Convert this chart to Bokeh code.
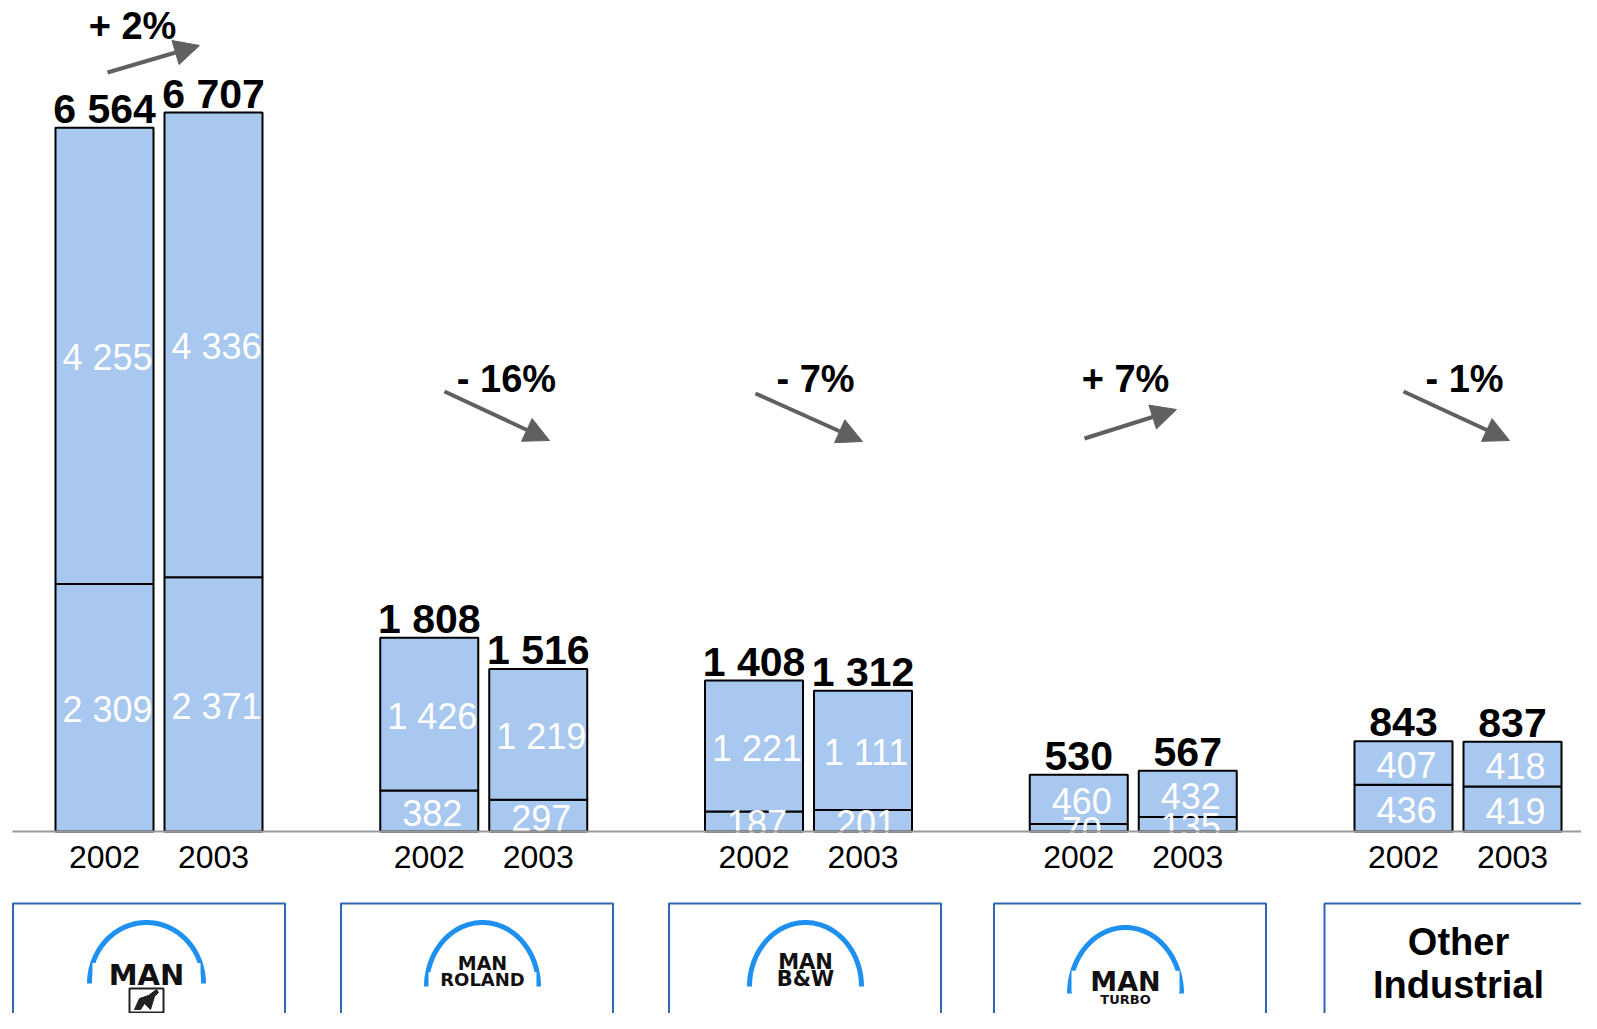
import numpy as np
from bokeh.plotting import figure
from bokeh.models import Range1d, Arrow, NormalHead, ColumnDataSource
from bokeh.core.properties import value
from bokeh.embed import file_html
from bokeh.resources import INLINE

# ---------------- data ----------------
segments = ["MAN Nutzfahrzeuge", "MAN Roland", "MAN B&W", "MAN Turbo", "Other Industrial"]
years = ["2002", "2003"]
lower_2002 = [2309, 382, 187, 70, 436]
upper_2002 = [4255, 1426, 1221, 460, 407]
lower_2003 = [2371, 297, 201, 135, 419]
upper_2003 = [4336, 1219, 1111, 432, 418]
change_labels = ["+ 2%", "- 16%", "- 7%", "+ 7%", "- 1%"]

# ---------------- layout ----------------
W, H = 1581, 1013
ORIGIN = 0             # page offset of the canvas (as rendered)
BASE_PY = 831          # page y of zero line
K = 0.1072             # px per unit
X0 = 104               # centre of first bar (page px)
GROUP_STEP = 324.75
YEAR_STEP = 109
BAR_W = 98
FONT = "Liberation Sans"
BAR_FILL = "#a8c8f0"


def py2v(py):
    return (BASE_PY - py) / K


p = figure(width=W, height=H, output_backend="svg", toolbar_location=None,
           x_range=Range1d(ORIGIN, ORIGIN + W),
           y_range=Range1d(py2v(ORIGIN + H), py2v(ORIGIN)),
           min_border=0, outline_line_color=None)
p.axis.visible = False
p.grid.visible = False
p.background_fill_color = "white"

fmt = lambda v: f"{v:,}".replace(",", " ")

xs, lows, ups, tots, yrs = [], [], [], [], []
for g in range(len(segments)):
    for yi, (lo, up) in enumerate([(lower_2002[g], upper_2002[g]), (lower_2003[g], upper_2003[g])]):
        xs.append(X0 + g * GROUP_STEP + yi * YEAR_STEP)
        lows.append(lo)
        ups.append(up)
        tots.append(lo + up)
        yrs.append(years[yi])

src = ColumnDataSource(dict(
    x=xs, low=lows, up=ups, tot=tots, year=yrs,
    low_mid=[l / 2 for l in lows],
    up_mid=[l + u / 2 for l, u in zip(lows, ups)],
    low_lbl=[fmt(v) for v in lows],
    up_lbl=[fmt(v) for v in ups],
    tot_lbl=[fmt(v) for v in tots],
    year_y=[py2v(856)] * len(xs),
))

p.vbar(x="x", width=BAR_W, bottom=0, top="low", source=src,
       fill_color=BAR_FILL, line_color="black", line_width=2)
p.vbar(x="x", width=BAR_W, bottom="low", top="tot", source=src,
       fill_color=BAR_FILL, line_color="black", line_width=2)

# inner labels
p.text(x="x", y="low_mid", text="low_lbl", source=src, x_offset=3, y_offset=2,
       text_color="white", text_font=value(FONT), text_font_size="36px",
       text_align="center", text_baseline="middle")
p.text(x="x", y="up_mid", text="up_lbl", source=src, x_offset=3, y_offset=2,
       text_color="white", text_font=value(FONT), text_font_size="36px",
       text_align="center", text_baseline="middle")

# totals
p.text(x="x", y="tot", text="tot_lbl", source=src, y_offset=-19,
       text_color="black", text_font=value(FONT), text_font_size="41px",
       text_font_style="bold", text_align="center", text_baseline="middle")

# baseline
p.segment(x0=[12], y0=[0], x1=[1597], y1=[0], line_color="#9a9a9a", line_width=2)

# year labels
p.text(x="x", y="year_y", text="year", source=src,
       text_color="black", text_font=value(FONT), text_font_size="32px",
       text_align="center", text_baseline="middle")

# change arrows (page px: x0, y0, x1, y1, label x, label y)
arrow_layout = [
    (107, 72, 199, 45, 132, 25),
    (444, 391, 549, 440, 506, 378),
    (755, 393, 862, 441, 815, 378),
    (1084, 438, 1176, 409, 1125, 378),
    (1403, 391, 1509, 440, 1464, 378),
]
for (ax0, ay0, ax1, ay1, lx, ly), lbl in zip(arrow_layout, change_labels):
    p.add_layout(Arrow(x_start=ax0, y_start=py2v(ay0), x_end=ax1, y_end=py2v(ay1),
                       line_color="#606060", line_width=4,
                       end=NormalHead(size=25, fill_color="#606060", line_color="#606060")))
p.text(x=[l[4] for l in arrow_layout], y=[py2v(l[5]) for l in arrow_layout], text=change_labels,
       text_color="black", text_font=value(FONT), text_font_size="38px",
       text_font_style="bold", text_align="center", text_baseline="middle")

# logo boxes
box_centers = [148.5, 476.5, 804.5, 1129.5, 1460]
BOX_W = 272
p.quad(left=[c - BOX_W / 2 for c in box_centers], right=[c + BOX_W / 2 for c in box_centers],
       top=[py2v(903)] * 5, bottom=[py2v(1060)] * 5,
       fill_color=None, line_color="#2f66b3", line_width=2)

# logo arches (page px: cx, base y, half width, height)
arches = [(146, 983, 57, 61), (482, 986, 56, 64), (805, 986, 56, 64), (1125, 993, 56, 66)]
t = np.linspace(0, np.pi, 60)
for cx, yb, a, b in arches:
    p.line(x=cx + a * np.cos(t), y=[py2v(yb - b * s) for s in np.sin(t)],
           line_color="#1e90f0", line_width=5)

LOGO_FONT = "DejaVu Sans"
logo_texts = [
    (146, 974, "MAN", "29px", 108),
    (482, 962, "MAN", "19px", 70),
    (482, 979, "ROLAND", "18px", 108),
    (805, 961, "MAN", "21px", 70),
    (805, 978, "B&W", "21px", 70),
    (1125, 981, "MAN", "27px", 108),
    (1125, 999, "TURBO", "13px", 60),
]
for x, y, txt, sz, bw in logo_texts:
    fs = float(sz[:-2])
    p.rect(x=[x], y=[py2v(y)], width=bw, height=fs * 0.8 / K,
           fill_color="white", line_color=None)
    p.text(x=[x], y=[py2v(y)], text=[txt], text_color="#111111", text_font=value(LOGO_FONT),
           text_font_size=sz, text_font_style="bold", text_align="center", text_baseline="middle")

# lion icon
p.rect(x=[146], y=[py2v(1000)], width=34, height=24 / K, fill_color="white",
       line_color="#222222", line_width=2)
p.patch(x=[134, 139, 148, 156, 158, 154, 150, 144, 140, 136],
        y=[py2v(v) for v in [1009, 998, 995, 989, 992, 996, 1009, 1003, 1009, 1009]],
        fill_color="#222222", line_color="#222222")

# other industrial
p.text(x=[1458, 1458], y=[py2v(941), py2v(984)], text=["Other", "Industrial"],
       text_color="black", text_font=value(FONT), text_font_size="38px",
       text_font_style="bold", text_align="center", text_baseline="middle")

open("out.html", "w").write(file_html(p, INLINE))
